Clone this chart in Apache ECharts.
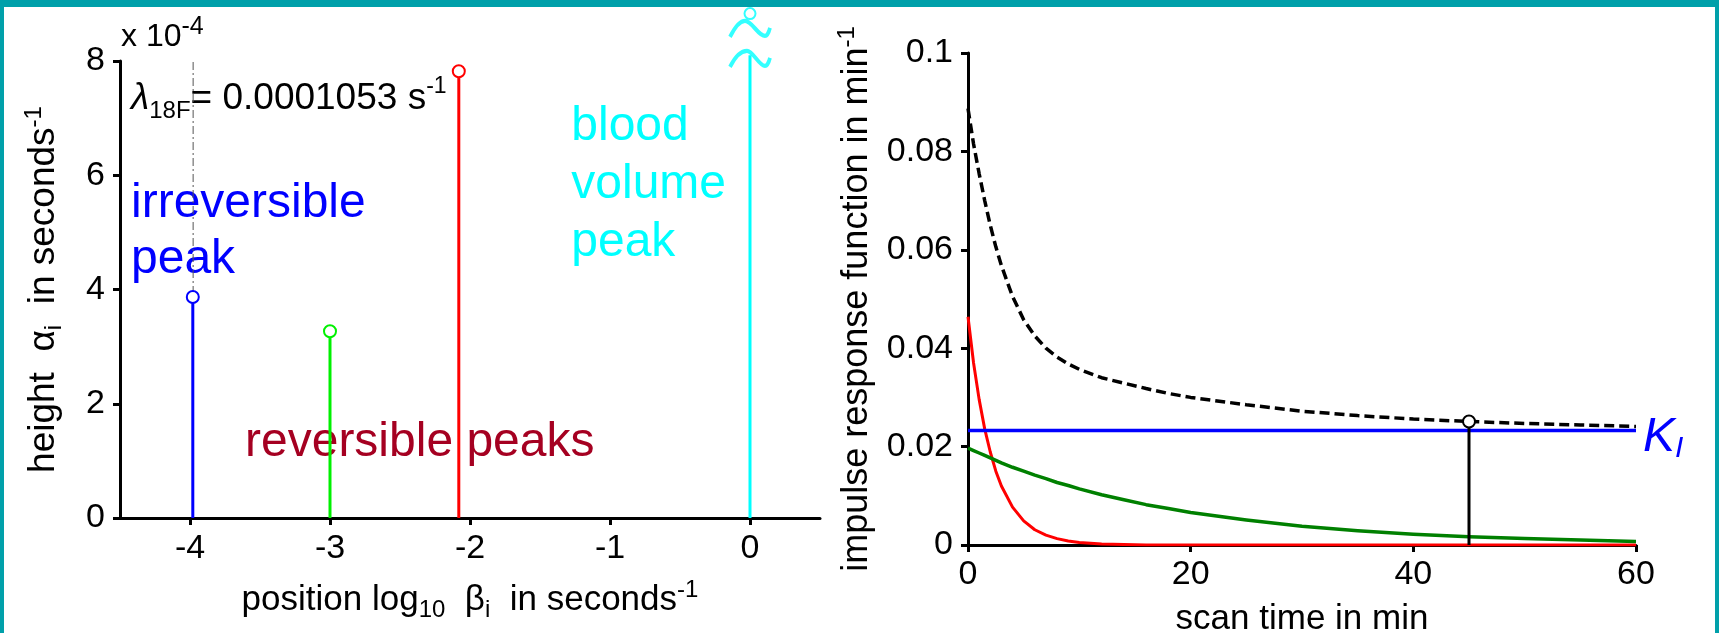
<!DOCTYPE html>
<html>
<head>
<meta charset="utf-8">
<script src="https://cdn.jsdelivr.net/npm/echarts@6/dist/echarts.min.js"></script>
<style>
  html, body { margin: 0; padding: 0; background: #fff; }
  #chart { width: 1719px; height: 633px; }
</style>
</head>
<body>
<div id="chart"></div>
<script>
// left panel: spectrum of peaks (height x1e-4 vs log10 position)
const lambda18F = 0.0001053;
const peakPos = [-3.98, -3, -2.08, 0];
const peakHeight = [3.87, 3.27, 7.82, 8.1];
const bloodBreak = 8.3;
const bloodTop = 8.83;
const leftTicks = [-4, -3, -2, -1, 0];

// right panel: impulse response curves
const scanTime = [0, 0.5, 1, 1.5, 2, 2.5, 3, 4, 5, 6, 7, 8, 9, 10, 12, 14, 16, 18, 20, 25, 30, 35, 40, 45, 50, 55, 60];
const totalIrf = [0.0887, 0.0815, 0.0755, 0.0700, 0.0650, 0.0606, 0.0568, 0.0505, 0.0458, 0.0425, 0.0400, 0.0382, 0.0368, 0.0357, 0.0340, 0.0329, 0.0318, 0.0308, 0.0300, 0.0285, 0.0272, 0.0263, 0.0256, 0.0251, 0.0247, 0.0244, 0.0241];
const fastComp = [0.0464, 0.0370, 0.0296, 0.0236, 0.0189, 0.0150, 0.0120, 0.0077, 0.0049, 0.0031, 0.0020, 0.0013, 0.0008, 0.0005, 0.0002, 0.0001, 0, 0, 0, 0, 0, 0, 0, 0, 0, 0, 0];
const slowComp = [0.0197, 0.0192, 0.0187, 0.0182, 0.0177, 0.0172, 0.0167, 0.0158, 0.0150, 0.0142, 0.0135, 0.0127, 0.0121, 0.0114, 0.0102, 0.0092, 0.0082, 0.0074, 0.0066, 0.0051, 0.0038, 0.0029, 0.0022, 0.0017, 0.0013, 0.0010, 0.0007];
const kI = 0.02325;
const probeTime = 45;
const probeValue = 0.0251;

const FONT = "'Liberation Sans', Arial, sans-serif";
const TEAL = '#00A0AA';

const chart = echarts.init(document.getElementById('chart'));

const rich = {
  sub: { fontSize: 24, fontFamily: FONT, color: '#000', verticalAlign: 'bottom', lineHeight: 18 },
  sup: { fontSize: 24, fontFamily: FONT, color: '#000', verticalAlign: 'top', lineHeight: 18 }
};

function axisCommon(nameSize) {
  return {
    axisLine: { show: true, onZero: false, lineStyle: { color: '#000', width: 3 } },
    axisTick: { show: true, length: 7, lineStyle: { color: '#000', width: 3 } },
    axisLabel: { color: '#000', fontSize: 34, fontFamily: FONT, margin: 15 },
    splitLine: { show: false },
    nameLocation: 'middle',
    nameTextStyle: { color: '#000', fontSize: nameSize, fontFamily: FONT, lineHeight: 44, rich: rich }
  };
}

function stem(x, h, color) {
  return {
    type: 'line',
    xAxisIndex: 0, yAxisIndex: 0,
    data: [{ value: [x, 0], symbol: 'none' }, { value: [x, h], symbol: 'emptyCircle', symbolSize: 12 }],
    lineStyle: { color: color, width: 3 },
    itemStyle: { color: color, borderWidth: 3 },
    clip: false, silent: true, z: 3
  };
}

const stemColors = ['#0000FF', '#00F000', '#FF0000'];
const stemSeries = stemColors.map((c, i) => stem(peakPos[i], peakHeight[i], c));

function curve(values) {
  return scanTime.map((t, i) => [t, values[i]]);
}

const option = {
  backgroundColor: '#fff',
  animation: false,
  grid: [
    { left: 120, top: 61, width: 700, height: 457, outerBoundsMode: 'none', containLabel: false },
    { left: 968, top: 53, width: 668, height: 492, outerBoundsMode: 'none', containLabel: false }
  ],
  xAxis: [
    Object.assign(axisCommon(35), {
      type: 'value', gridIndex: 0, min: -4.5, max: 0.5,
      name: 'position log{sub|10}  β{sub|i}  in seconds{sup|-1}', nameGap: 60,
      axisTick: { show: true, length: 7, customValues: leftTicks, lineStyle: { color: '#000', width: 3 } },
      axisLabel: { color: '#000', fontSize: 34, fontFamily: FONT, margin: 14, customValues: leftTicks }
    }),
    Object.assign(axisCommon(35), {
      type: 'value', gridIndex: 1, min: 0, max: 60, interval: 20,
      name: 'scan time in min', nameGap: 44,
      axisLabel: { color: '#000', fontSize: 34, fontFamily: FONT, margin: 13 }
    })
  ],
  yAxis: [
    Object.assign(axisCommon(37), {
      type: 'value', gridIndex: 0, min: 0, max: 8, interval: 2,
      name: 'height  α{sub|i}  in seconds{sup|-1}', nameGap: 54
    }),
    Object.assign(axisCommon(36), {
      type: 'value', gridIndex: 1, min: 0, max: 0.1, interval: 0.02,
      name: 'impulse response function in min{sup|-1}', nameGap: 89
    })
  ],
  series: [
    {
      type: 'line', xAxisIndex: 0, yAxisIndex: 0,
      data: [[Math.log10(lambda18F), 0], [Math.log10(lambda18F), 8]],
      symbol: 'none', silent: true,
      lineStyle: { color: '#555', width: 1, type: [8, 3, 2, 3] }, z: 1
    },
    ...stemSeries,
    {
      type: 'line', xAxisIndex: 0, yAxisIndex: 0,
      data: [[peakPos[3], 0], [peakPos[3], peakHeight[3]]],
      symbol: 'none', clip: false, silent: true,
      lineStyle: { color: '#00FFFF', width: 3 }
    },
    {
      type: 'scatter', xAxisIndex: 0, yAxisIndex: 0, clip: false, silent: true,
      data: [[peakPos[3], bloodBreak]],
      symbol: 'path://M0,16 C4,8 9,0 15,0 C22,0 28,15 35,15 C37,15 39,11 40,7 M0,46 C4,38 9,30 17,30 C23,30 29,45 35,45 C37,45 39,41 40,37',
      symbolSize: [40, 46], symbolKeepAspect: false,
      itemStyle: { color: 'transparent', borderColor: '#00FFFF', borderWidth: 4 }
    },
    {
      type: 'scatter', xAxisIndex: 0, yAxisIndex: 0, clip: false, silent: true,
      data: [[peakPos[3], bloodTop]],
      symbol: 'emptyCircle', symbolSize: 11,
      itemStyle: { color: '#00FFFF', borderWidth: 3 }
    },
    // right panel
    {
      type: 'line', xAxisIndex: 1, yAxisIndex: 1, name: 'fast',
      data: curve(fastComp), symbol: 'none',
      lineStyle: { color: '#FF0000', width: 3, join: 'round' }
    },
    {
      type: 'line', xAxisIndex: 1, yAxisIndex: 1, name: 'slow',
      data: curve(slowComp), symbol: 'none',
      lineStyle: { color: '#008000', width: 3.5, join: 'round' }
    },
    {
      type: 'line', xAxisIndex: 1, yAxisIndex: 1, name: 'KI',
      data: [[scanTime[0], kI], [scanTime[scanTime.length - 1], kI]],
      symbol: 'none',
      lineStyle: { color: '#0000FF', width: 3.5 }
    },
    {
      type: 'line', xAxisIndex: 1, yAxisIndex: 1, name: 'total',
      data: curve(totalIrf), symbol: 'none',
      lineStyle: { color: '#000', width: 3.5, type: [10, 5] }
    },
    {
      type: 'line', xAxisIndex: 1, yAxisIndex: 1, name: 'probe',
      data: [{ value: [probeTime, 0], symbol: 'none' }, { value: [probeTime, probeValue], symbol: 'emptyCircle', symbolSize: 12 }],
      lineStyle: { color: '#000', width: 3 },
      itemStyle: { color: '#000', borderWidth: 3 }, z: 4
    }
  ],
  graphic: [
    { type: 'rect', left: 0, top: 0, shape: { width: 1719, height: 7 }, style: { fill: TEAL }, z: 100 },
    { type: 'rect', left: 0, top: 0, shape: { width: 4, height: 633 }, style: { fill: TEAL }, z: 100 },
    { type: 'rect', left: 1715, top: 0, shape: { width: 4, height: 633 }, style: { fill: TEAL }, z: 100 },
    {
      type: 'text', left: 121, top: 15,
      style: {
        text: 'x 10{sup|-4}', fontSize: 32, fontFamily: FONT, fill: '#000', lineHeight: 44,
        rich: { sup: { fontSize: 25, fontFamily: FONT, fill: '#000', verticalAlign: 'top', lineHeight: 20 } }
      }
    },
    {
      type: 'text', left: 131, top: 75,
      style: {
        text: '{it|λ}{sub|18F}= 0.0001053 s{sup|-1}', fontSize: 37, fontFamily: FONT, fill: '#000', lineHeight: 48,
        rich: {
          it: { fontSize: 37, fontFamily: FONT, fontStyle: 'italic', fill: '#000', lineHeight: 48 },
          sub: { fontSize: 24, fontFamily: FONT, fill: '#000', verticalAlign: 'bottom', lineHeight: 20 },
          sup: { fontSize: 23, fontFamily: FONT, fill: '#000', verticalAlign: 'top', lineHeight: 20 }
        }
      }
    },
    {
      type: 'text', left: 131, top: 176,
      style: { text: 'irreversible\npeak', fontSize: 48, fontFamily: FONT, fill: '#0000FF', lineHeight: 56 }
    },
    {
      type: 'text', left: 245, top: 418,
      style: { text: 'reversible peaks', fontSize: 48, fontFamily: FONT, fill: '#A50021', lineHeight: 50 }
    },
    {
      type: 'text', right: 993, top: 98,
      style: { text: 'blood\nvolume\npeak', fontSize: 48, fontFamily: FONT, fill: '#00FFFF', lineHeight: 58, align: 'right' }
    },
    {
      type: 'text', left: 1643, top: 414,
      style: {
        text: '{k|K}{sub|I}', fontFamily: FONT, fill: '#0000FF',
        rich: {
          k: { fontSize: 48, fontFamily: FONT, fontStyle: 'italic', fill: '#0000FF', lineHeight: 52 },
          sub: { fontSize: 30, fontFamily: FONT, fontStyle: 'italic', fill: '#0000FF', verticalAlign: 'bottom', lineHeight: 24 }
        }
      }
    }
  ]
};

chart.setOption(option);
</script>
</body>
</html>
